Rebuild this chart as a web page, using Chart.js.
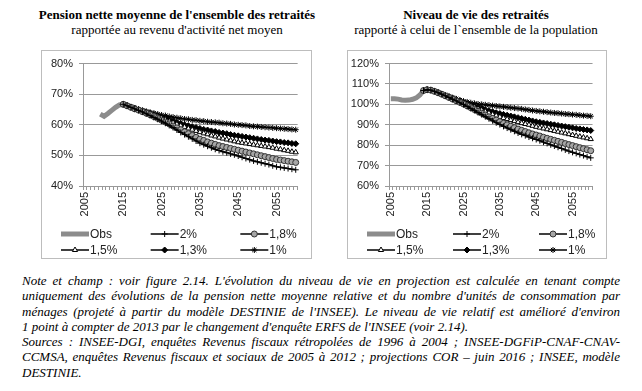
<!DOCTYPE html>
<html><head><meta charset="utf-8">
<script src="https://cdn.jsdelivr.net/npm/chart.js@4/dist/chart.umd.min.js"></script>
<style>
html,body{margin:0;padding:0;background:#fff;width:642px;height:391px;overflow:hidden;position:relative}
.title{position:absolute;top:7px;font-family:"Liberation Serif",serif;font-size:13px;line-height:15px;color:#000;text-align:center;white-space:nowrap}
.title b{font-weight:bold}
.box{position:absolute;top:50px;height:209px;border:1px solid #bdbdbd;box-sizing:border-box}
.box canvas{position:absolute;left:0;top:0}
.note{position:absolute;left:22px;top:273px;width:598px;font-family:"Liberation Serif",serif;font-style:italic;font-size:13px;line-height:15.3px;color:#000}
.note div{text-align:justify;text-align-last:justify;height:15.3px}
.note div.l{text-align-last:left}
</style></head>
<body>
<div class="title" style="left:0;width:354px"><b>Pension nette moyenne de l'ensemble des retraités</b><br>rapportée au revenu d'activité net moyen</div>
<div class="title" style="left:300px;width:352px"><b>Niveau de vie des retraités</b><br>rapporté à celui de l`ensemble de la population</div>
<div class="box" style="left:41px;width:271px"><canvas id="c1" width="269" height="207"></canvas></div>
<div class="box" style="left:347px;width:260px"><canvas id="c2" width="258" height="207"></canvas></div>
<div class="note">
<div>Note et champ : voir figure 2.14. L'évolution du niveau de vie en projection est calculée en tenant compte</div>
<div>uniquement des évolutions de la pension nette moyenne relative et du nombre d'unités de consommation par</div>
<div>ménages (projeté à partir du modèle DESTINIE de l'INSEE). Le niveau de vie relatif est amélioré d'environ</div>
<div class="l">1 point à compter de 2013 par le changement d'enquête ERFS de l'INSEE (voir 2.14).</div>
<div>Sources : INSEE-DGI, enquêtes Revenus fiscaux rétropolées de 1996 à 2004 ; INSEE-DGFiP-CNAF-CNAV-</div>
<div>CCMSA, enquêtes Revenus fiscaux et sociaux de 2005 à 2012 ; projections COR – juin 2016 ; INSEE, modèle</div>
<div class="l">DESTINIE.</div>
</div>
<script>
// ---- categories ----
const years = [2005,2006,2007,2008,2009,2010,2011,2012,2013,2014,2015,2016,2017,2018,2019,2020,
  2021,2022,2023,2024,2025,2026,2027,2028,2029,2030,2031,2032,2033,2034,2035,2036,2037,2038,2039,2040,
  2041,2042,2043,2044,2045,2046,2047,2048,2049,2050,2051,2052,2053,2054,2055,2056,2057,2058,2059,2060];
const seriesLabels = ['Obs','2%','1,8%','1,5%','1,3%','1%'];

// ---- left panel: pension nette moyenne / revenu d'activité net moyen (%) ----
const leftObsStart = 2009;
const leftObs = [63.5,62.8,63.7,64.7,65.7,66.5,66.7];
const leftProjStart = 2015;
const left2   = [66.7,66.2,65.7,65.2,64.7,64.2,63.6,63.0,62.4,61.8,61.2,
  60.5,59.8,59.1,58.3,57.5,56.8,56.1,55.4,54.7,54.0,
  53.5,53.0,52.5,52.0,51.6,51.2,50.9,50.5,50.2,49.8,
  49.4,49.0,48.6,48.2,47.9,47.6,47.3,47.0,46.6,46.3,
  46.1,45.9,45.7,45.5,45.3];
const left18  = [66.7,66.2,65.7,65.2,64.8,64.3,63.8,63.3,62.7,62.1,61.5,
  60.9,60.3,59.6,59.0,58.4,57.7,57.1,56.5,55.9,55.3,
  54.9,54.4,54.0,53.6,53.2,52.9,52.6,52.3,52.0,51.7,
  51.4,51.1,50.8,50.5,50.2,49.9,49.6,49.3,49.0,48.7,
  48.5,48.3,48.1,47.9,47.7];
const left15  = [66.7,66.3,65.8,65.4,64.9,64.5,64.1,63.6,63.2,62.7,62.2,
  61.7,61.2,60.7,60.2,59.7,59.3,58.8,58.4,58.0,57.6,
  57.2,56.9,56.5,56.2,55.8,55.5,55.2,54.9,54.6,54.3,
  54.1,53.9,53.7,53.5,53.3,53.1,52.9,52.7,52.5,52.2,
  52.0,51.7,51.5,51.2,51.0];
const left13  = [66.7,66.3,65.8,65.4,65.0,64.6,64.2,63.8,63.4,63.0,62.5,
  62.1,61.6,61.2,60.8,60.4,60.0,59.7,59.4,59.1,58.8,
  58.5,58.3,58.0,57.8,57.5,57.3,57.1,56.8,56.6,56.4,
  56.2,56.0,55.8,55.6,55.4,55.2,55.0,54.9,54.7,54.5,
  54.4,54.2,54.1,53.9,53.8];
const left1   = [66.7,66.3,65.9,65.5,65.1,64.7,64.4,64.1,63.8,63.5,63.2,
  63.0,62.7,62.5,62.3,62.1,61.9,61.8,61.6,61.5,61.3,
  61.2,61.0,60.9,60.8,60.7,60.5,60.4,60.3,60.1,60.0,
  59.9,59.8,59.6,59.5,59.4,59.3,59.2,59.1,59.0,58.9,
  58.8,58.7,58.6,58.5,58.4];
const leftTicks = {min:40, max:80, step:10};

// ---- right panel: niveau de vie des retraités / ensemble de la population (%) ----
const rightObsStart = 2005;
const rightObs = [102.8,102.8,102.6,102.2,102.0,102.1,102.5,103.2,104.6,106.8];
const rightProjStart = 2014;
const right2  = [106.8,107.2,107.0,106.4,105.7,105.0,104.2,
  103.4,102.5,101.7,100.8,99.9,99.0,98.0,97.0,96.0,95.0,
  94.0,93.0,92.0,91.0,90.1,89.2,88.4,87.6,86.8,86.0,
  85.3,84.7,84.0,83.4,82.8,82.2,81.5,80.9,80.2,79.6,
  79.0,78.4,77.7,77.1,76.5,76.0,75.4,74.9,74.3,73.8];
const right18 = [106.8,107.2,107.0,106.4,105.7,105.0,104.2,
  103.4,102.6,101.8,101.0,100.2,99.3,98.4,97.5,96.6,95.7,
  94.8,93.9,93.1,92.3,91.5,90.7,90.0,89.3,88.6,87.9,
  87.3,86.7,86.1,85.5,85.0,84.5,83.9,83.4,82.9,82.4,
  81.9,81.4,80.8,80.3,79.8,79.3,78.8,78.3,77.8,77.3];
const right15 = [106.8,107.2,107.0,106.5,105.8,105.1,104.3,
  103.6,102.9,102.2,101.5,100.7,100.0,99.3,98.6,97.9,97.2,
  96.5,95.8,95.1,94.5,93.9,93.3,92.8,92.3,91.8,91.3,
  90.8,90.4,90.0,89.5,89.0,88.6,88.2,87.8,87.4,87.0,
  86.6,86.2,85.8,85.4,85.0,84.6,84.2,83.8,83.4,83.0];
const right13 = [106.8,107.2,107.0,106.5,105.8,105.1,104.4,
  103.8,103.1,102.5,101.8,101.1,100.4,99.8,99.1,98.5,97.9,
  97.4,96.9,96.4,95.9,95.5,95.1,94.7,94.3,93.9,93.5,
  93.1,92.7,92.3,91.9,91.5,91.2,90.9,90.6,90.3,90.0,
  89.7,89.4,89.1,88.8,88.5,88.2,88.0,87.7,87.5,87.2];
const right1  = [106.8,107.2,107.0,106.5,105.8,105.1,104.5,
  103.9,103.3,102.7,102.1,101.6,101.2,100.8,100.5,100.2,100.0,
  99.8,99.6,99.4,99.2,99.0,98.8,98.6,98.4,98.2,98.0,
  97.8,97.5,97.3,97.0,96.8,96.6,96.4,96.2,96.0,95.8,
  95.7,95.5,95.3,95.2,95.0,94.9,94.7,94.5,94.4,94.2];
const rightTicks = {min:60, max:120, step:10};

// ---- helpers ----
function place(start, arr){
  return years.map(y => { const i = y - start; return (i >= 0 && i < arr.length) ? arr[i] : null; });
}
const styles = [
  {borderColor:'#8c8c8c', borderWidth:5, pointRadius:0, pointStyle:false, pointBackgroundColor:'#8c8c8c', pointBorderColor:'#8c8c8c', order:10},
  {borderColor:'#000', borderWidth:1.5, pointStyle:'cross', pointRadius:3, pointBackgroundColor:'#000', pointBorderColor:'#000', order:0},
  {borderColor:'#000', borderWidth:1.5, pointStyle:'circle', pointRadius:3, pointBackgroundColor:'#a6a6a6', pointBorderColor:'#333', order:0},
  {borderColor:'#000', borderWidth:1.5, pointStyle:'triangle', pointRadius:3, pointBackgroundColor:'#fff', pointBorderColor:'#000', order:0},
  {borderColor:'#000', borderWidth:1.5, pointStyle:'rectRot', pointRadius:3, pointBackgroundColor:'#000', pointBorderColor:'#000', order:0},
  {borderColor:'#000', borderWidth:1.5, pointStyle:'star', pointRadius:3, pointBackgroundColor:'#000', pointBorderColor:'#000', order:0}
];
function datasets(series){
  return series.map((d,i)=>Object.assign({label:seriesLabels[i], data:d, fill:false, tension:0,
    pointBorderWidth:1, pointHoverRadius:0, spanGaps:false}, styles[i]));
}

const gridLegend = {
  id:'gridLegend',
  afterDraw(chart){
    const ctx = chart.ctx, colW = chart.width/3;
    const x0 = 19, y0 = 183, rowH = 16, len = 28;
    chart.data.datasets.forEach((ds,i)=>{
      const x = x0 + (i%3)*colW, y = y0 + Math.floor(i/3)*rowH;
      ctx.save();
      ctx.strokeStyle = ds.borderColor; ctx.lineWidth = ds.borderWidth; ctx.lineCap='butt';
      ctx.beginPath(); ctx.moveTo(x,y); ctx.lineTo(x+len,y); ctx.stroke();
      if (ds.pointRadius > 0){
        ctx.fillStyle = ds.pointBackgroundColor; ctx.strokeStyle = ds.pointBorderColor; ctx.lineWidth = 1;
        Chart.helpers.drawPoint(ctx, {pointStyle:ds.pointStyle, radius:ds.pointRadius, rotation:0, borderWidth:1}, x+len/2, y);
      }
      ctx.fillStyle = '#222'; ctx.font = '12px "Liberation Sans"'; ctx.textBaseline='middle'; ctx.textAlign='left';
      ctx.fillText(ds.label, x+len+1, y+0.5);
      ctx.restore();
    });
  }
};

Chart.defaults.font.family = '"Liberation Sans", Arial, sans-serif';
Chart.defaults.font.size = 11;
Chart.defaults.color = '#222';

function makeChart(id, series, tk){
  return new Chart(document.getElementById(id), {
    type:'line',
    data:{labels:years, datasets:datasets(series)},
    options:{
      responsive:false, animation:false, events:[],
      layout:{padding:{left:0, right:8, top:8, bottom:0}},
      plugins:{legend:{display:false}, tooltip:{enabled:false}},
      scales:{
        x:{type:'category', offset:true,
          grid:{display:true, drawOnChartArea:false, drawTicks:true, tickLength:4, color:'#999', offset:true},
          border:{display:true, color:'#999'},
          ticks:{autoSkip:false, minRotation:90, maxRotation:90, padding:2, font:{size:11},
            callback:(v,i)=> (years[i]-2005)%10===0 ? String(years[i]) : ''},
          afterFit:s=>{s.height = 72;}
        },
        y:{min:tk.min, max:tk.max,
          grid:{color:'#999', tickLength:4},
          border:{display:true, color:'#999'},
          ticks:{stepSize:tk.step, padding:6, font:{size:11}, callback:v=>v+'%'},
          afterFit:s=>{s.width = 41;}
        }
      }
    },
    plugins:[gridLegend]
  });
}

makeChart('c1', [place(leftObsStart,leftObs), place(leftProjStart,left2), place(leftProjStart,left18),
  place(leftProjStart,left15), place(leftProjStart,left13), place(leftProjStart,left1)], leftTicks);
makeChart('c2', [place(rightObsStart,rightObs), place(rightProjStart,right2), place(rightProjStart,right18),
  place(rightProjStart,right15), place(rightProjStart,right13), place(rightProjStart,right1)], rightTicks);
</script>
</body></html>
